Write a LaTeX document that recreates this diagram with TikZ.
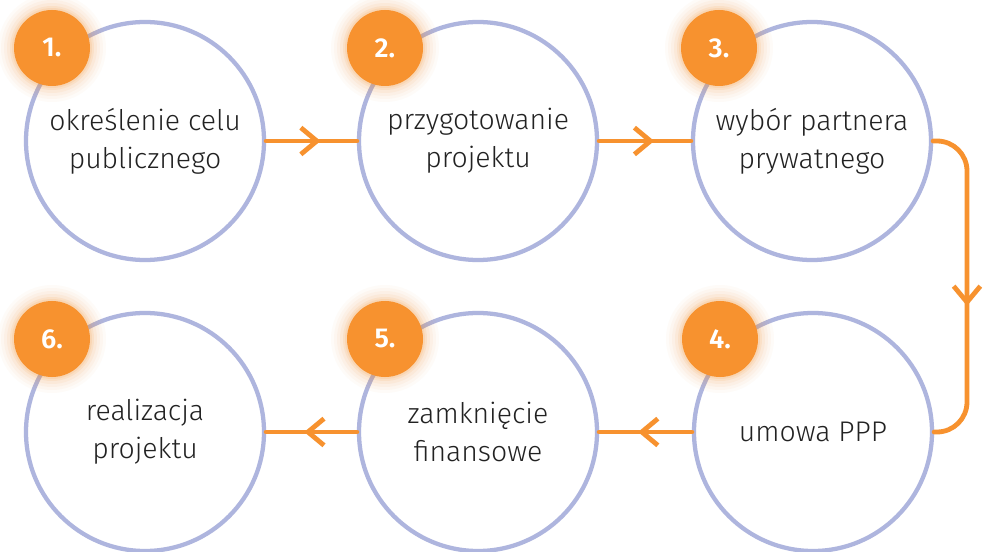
\documentclass[tikz,border=0pt]{standalone}
\usepackage{fontspec}
\setmainfont{Fira Sans Light}[BoldFont=Fira Sans SemiBold]
\usetikzlibrary{arrows.meta,decorations.markings}
\definecolor{ring}{HTML}{AEB5DE}
\definecolor{orng}{HTML}{F7922F}
\definecolor{txt}{HTML}{222222}
\tikzset{
  stepbox/.style={circle, draw=ring, line width=3.2pt, fill=white, minimum size=178.5pt, inner sep=0pt,
    align=center, text=txt, font=\fontsize{21.3}{28.5}\selectfont},
  badge/.style={circle, fill=orng, minimum size=57pt, inner sep=0pt, text=white,
    font=\fontsize{20.5}{24}\bfseries\selectfont},
  conn/.style={draw=orng, line width=3.6pt, line cap=round, line join=round,
    postaction={decorate}},
  chev/.style={decoration={markings, mark=at position #1 with {\arrow[orng, line width=3.6pt, line cap=round]{Straight Barb[length=12pt, width=20pt]}}}}
}
\newcommand{\glowbadge}[3]{%
  \foreach \r/\o in {54/0.03,51/0.04,48/0.05,45/0.07,42/0.1,40/0.12}{
    \fill[orng, opacity=\o] (#2) circle (\r*0.75pt);
  }
  \node[badge] (#1) at (#2) {#3};
}
\begin{document}
\begin{tikzpicture}[x=0.75pt, y=-0.75pt]
\useasboundingbox (0,0) rectangle (985,552);
\fill[white] (0,0) rectangle (985,552);
\node[stepbox] (c1) at (145,141) {określenie celu\\publicznego};
\node[stepbox] (c2) at (478,141) {przygotowanie\\projektu};
\node[stepbox] (c3) at (812,141) {wybór partnera\\prywatnego};
\node[stepbox] (c4) at (813,432) {umowa PPP};
\node[stepbox] (c5) at (478,432) {zamknięcie\\finansowe};
\node[stepbox] (c6) at (145,432) {realizacja\\projektu};
\coordinate (k) at (967,286);
\draw[conn, chev=0.6] (c1.east) -- (c2.west);
\draw[conn, chev=0.6] (c2.east) -- (c3.west);
\draw[conn, chev=0.56, rounded corners=22.5pt] (c3.east) -| (k) |- (c4.east);
\draw[conn, chev=0.58] (c4.west) -- (c5.east);
\draw[conn, chev=0.58] (c5.west) -- (c6.east);
\glowbadge{b1}{52,48}{1.}
\glowbadge{b2}{385,48}{2.}
\glowbadge{b3}{719,48}{3.}
\glowbadge{b4}{720,339}{4.}
\glowbadge{b5}{385,339}{5.}
\glowbadge{b6}{52,339}{6.}
\end{tikzpicture}
\end{document}
